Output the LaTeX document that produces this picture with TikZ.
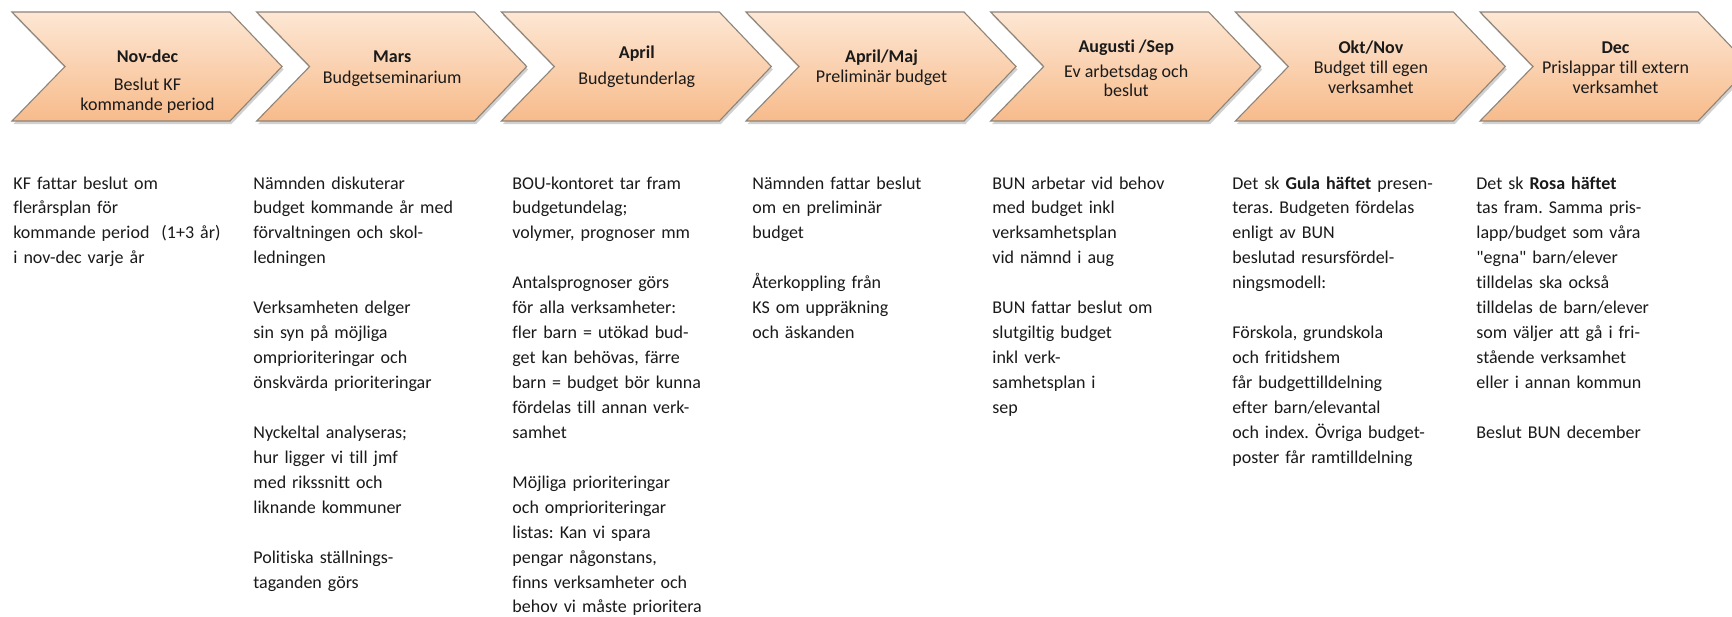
\documentclass[tikz,border=0pt]{standalone}
\usepackage{fontspec}
\setmainfont{Carlito}[Ligatures={NoCommon}]
\definecolor{chevtop}{HTML}{FDE7D4}
\definecolor{chevbot}{HTML}{F7BB8B}
\definecolor{chevedge}{HTML}{8E8478}
\definecolor{txt}{HTML}{1A1A1A}
\newcommand\gapline{\\[12.47pt]}
\frenchspacing
\begin{document}
\begin{tikzpicture}[x=0.5pt,y=-0.5pt,
  chev/.style={draw=chevedge,line width=0.55pt,top color=chevtop,bottom color=chevbot},
  chevshadow/.style={fill=black,opacity=0.18},
  ctitle/.style={anchor=base,inner sep=0,text=txt,font=\bfseries\fontsize{9}{11}\selectfont},
  ctext/.style={anchor=base,inner sep=0,text=txt,font=\fontsize{9}{11}\selectfont},
  body/.style={anchor=base west,inner sep=0,text=txt,text width=125pt,align=left,font=\fontsize{9}{12.47}\selectfont}]
\useasboundingbox[fill=white] (0,0) rectangle (1732,616);
\foreach \i in {0,...,6}{
  \pgfmathsetmacro\xo{12+\i*244.67}
  \fill[chevshadow] (\xo+1.5,15) -- (\xo+219.5,15) -- (\xo+271.5,69.5) -- (\xo+219.5,124) -- (\xo+1.5,124) -- (\xo+54.5,69.5) -- cycle;
  \path[chev] (\xo,12) -- (\xo+218,12) -- (\xo+270,66.5) -- (\xo+218,121) -- (\xo,121) -- (\xo+53,66.5) -- cycle;
}
% chevron texts
\node[ctitle] (t1) at (147.5,62) {Nov-dec};
\node[ctext] (t1a) at (147.5,90) {Beslut KF};
\node[ctext] (t1b) at (147.5,110) {kommande period};
\node[ctitle] (t2) at (392.2,62) {Mars};
\node[ctext] (t2a) at (392.2,83) {Budgetseminarium};
\node[ctitle] (t3) at (636.8,58) {April};
\node[ctext] (t3a) at (636.8,84) {Budgetunderlag};
\node[ctitle] (t4) at (881.5,62) {April/Maj};
\node[ctext] (t4a) at (881.5,82) {Preliminär budget};
\node[ctitle] (t5) at (1126.2,52) {Augusti /Sep};
\node[ctext] (t5a) at (1126.2,77) {Ev arbetsdag och};
\node[ctext] (t5b) at (1126.2,96) {beslut};
\node[ctitle] (t6) at (1370.9,53) {Okt/Nov};
\node[ctext] (t6a) at (1370.9,73) {Budget till egen};
\node[ctext] (t6b) at (1370.9,93) {verksamhet};
\node[ctitle] (t7) at (1615.5,53) {Dec};
\node[ctext] (t7a) at (1615.5,73) {Prislappar till extern};
\node[ctext] (t7b) at (1615.5,93) {verksamhet};
% columns
\node[body] (b1) at (13,189) {KF fattar beslut om\\flerårsplan för\\kommande period\ \ (1+3 år)\\i nov-dec varje år};
\node[body] (b2) at (253,189) {Nämnden diskuterar\\budget kommande år med\\förvaltningen och skol-\\ledningen\gapline
Verksamheten delger\\sin syn på möjliga\\omprioriteringar och\\önskvärda prioriteringar\gapline
Nyckeltal analyseras;\\hur ligger vi till jmf\\med rikssnitt och\\liknande kommuner\gapline
Politiska ställnings-\\taganden görs};
\node[body] (b3) at (512,189) {BOU-kontoret tar fram\\budgetundelag;\\volymer, prognoser mm\gapline
Antalsprognoser görs\\för alla verksamheter:\\fler barn = utökad bud-\\get kan behövas, färre\\barn = budget bör kunna\\fördelas till annan verk-\\samhet\gapline
Möjliga prioriteringar\\och omprioriteringar\\listas: Kan vi spara\\pengar någonstans,\\finns verksamheter och\\behov vi måste prioritera};
\node[body] (b4) at (752,189) {Nämnden fattar beslut\\om en preliminär\\budget\gapline
Återkoppling från\\KS om uppräkning\\och äskanden};
\node[body] (b5) at (992,189) {BUN arbetar vid behov\\med budget inkl\\verksamhetsplan\\vid nämnd i aug\gapline
BUN fattar beslut om\\slutgiltig budget\\inkl verk-\\samhetsplan i\\sep};
\node[body] (b6) at (1232,189) {Det sk \textbf{Gula häftet} presen-\\teras. Budgeten fördelas\\enligt av BUN\\beslutad resursfördel-\\ningsmodell:\gapline
Förskola, grundskola\\och fritidshem\\får budgettilldelning\\efter barn/elevantal\\och index. Övriga budget-\\poster får ramtilldelning};
\node[body] (b7) at (1476,189) {Det sk \textbf{Rosa häftet}\\tas fram. Samma pris-\\lapp/budget som våra\\\textquotedbl egna\textquotedbl{} barn/elever\\tilldelas ska också\\tilldelas de barn/elever\\som väljer att gå i fri-\\stående verksamhet\\eller i annan kommun\gapline
Beslut BUN december};
\end{tikzpicture}
\end{document}
